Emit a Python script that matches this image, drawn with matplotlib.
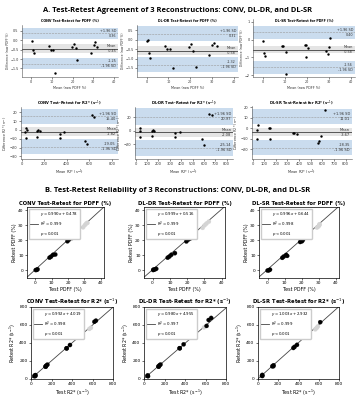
import numpy as np
import matplotlib.pyplot as plt

# ---- data ----
methods = ["CONV", "DL-DR", "DL-SR"]

# Bland-Altman PDFF: mean of test/retest (x) and difference (y)
conv_pdff_mean = [0.3, 0.6, 1.1, 8.6, 9.4, 10.6, 11.4, 19.5, 20.5, 21.7, 22.0, 28.9, 30.2, 31.1, 31.7]
conv_pdff_diff = [-0.05, -0.50, -0.70, -0.30, -0.52, -0.52, -1.72, -0.36, -0.20, -0.40, -1.03, -0.70, -0.27, -0.12, -0.36]
dldr_pdff_mean = [0.3, 0.6, 1.0, 1.6, 8.6, 9.5, 10.6, 12.2, 19.4, 20.5, 21.4, 22.7, 28.6, 30.0, 31.1, 32.5]
dldr_pdff_diff = [-0.05, 0.00, -0.70, -0.99, -0.31, -0.49, -0.49, -1.50, -0.38, -0.23, -0.58, -1.44, -0.83, -0.27, -0.18, -0.31]
dlsr_pdff_mean = [0.0, 0.5, 1.0, 8.5, 9.4, 10.6, 10.6, 19.0, 19.8, 20.6, 19.8, 28.7, 29.5, 30.3, 30.6]
dlsr_pdff_diff = [-0.09, -0.75, -0.93, -0.34, -0.34, -0.70, -1.92, -0.32, -0.28, -0.50, -0.97, -0.65, -0.80, -0.41, 0.06]

# Bland-Altman R2*
conv_r2_mean = [38, 44, 32, 38, 140, 149, 160, 140, 344, 344, 379, 563, 577, 627, 641]
conv_r2_diff = [2.2, 0.0, -2.6, -9.3, -1.5, 0.0, -0.7, -8.1, -4.4, -9.3, -2.6, -13.0, -15.5, 17.0, 14.8]
dldr_r2_mean = [38, 35, 35, 140, 152, 161, 140, 345, 345, 386, 579, 600, 643, 667]
dldr_r2_diff = [3.4, 0.0, -8.7, 0.0, 1.0, 0.0, -7.7, -3.9, -8.7, -1.4, -12.6, -20.8, 25.0, 22.7]
dlsr_r2_mean = [44, 38, 38, 141, 153, 147, 347, 359, 382, 559, 574, 588, 623]
dlsr_r2_diff = [2.7, -2.1, -9.8, 0.3, 0.0, -9.8, -4.3, -4.0, -5.8, -13.7, -11.9, -7.3, 16.8]

# bias and limits of agreement printed on the plots
pdff_bias = [-0.45, -0.58, -0.58]
pdff_upper = [0.36, 0.31, 0.40]
pdff_lower = [-1.25, -1.32, -1.56]
r2_bias = [-1.82, -2.08, -3.67]
r2_upper = [15.40, 20.97, 11.01]
r2_lower = [-19.05, -25.14, -18.35]

# half widths of the shaded confidence bands (bias, limits)
pdff_ci_bias = [0.22, 0.24, 0.20]
pdff_ci_loa = [0.30, 0.40, 0.35]
r2_ci_bias = [5.3, 6.5, 3.5]
r2_ci_loa = [8.5, 12.0, 7.0]

# regression fits printed in legends
pdff_slope = [0.990, 0.999, 0.996]
pdff_icpt = [0.478, 0.516, 0.644]
pdff_r2 = [0.999, 0.999, 0.998]
r2s_slope = [0.992, 0.980, 1.003]
r2s_icpt = [4.019, 4.955, 2.932]
r2s_r2 = [0.998, 0.997, 0.999]

W, H = 356, 400
fig = plt.figure(figsize=(3.56, 4.0), dpi=100)
fig.patch.set_facecolor("white")


def box(x0, y0, x1, y1):
    return [x0 / W, 1 - y1 / H, (x1 - x0) / W, (y1 - y0) / H]


def bland_altman(rect, title_y, xs, ys, bias, up, lo, ci_b, ci_l, xlim, ylim, yticks,
                 title, xlabel, ylabel, fs):
    ax = fig.add_axes(box(*rect))
    ax.set_xlim(xlim)
    ax.set_ylim(ylim)
    x0, x1 = xlim
    ax.fill_between([x0, x1], up - ci_l, up + ci_l, color="#cadcee", lw=0, zorder=0)
    ax.fill_between([x0, x1], lo - ci_l, lo + ci_l, color="#cadcee", lw=0, zorder=0)
    ax.fill_between([x0, x1], bias - ci_b, bias + ci_b, color="#e4e4e4", lw=0, zorder=0)
    ax.axhline(bias, color="#555555", lw=0.7, zorder=1)
    ax.axhline(up, color="#9a9a9a", lw=0.4, ls="--", zorder=1)
    ax.axhline(lo, color="#9a9a9a", lw=0.4, ls="--", zorder=1)
    ax.scatter(xs, ys, s=3, color="black", zorder=3, lw=0)
    off = (ylim[1] - ylim[0]) * 0.008
    tr = ax.get_yaxis_transform()
    kw = dict(ha="right", fontsize=fs, transform=tr, color="#333333")
    ax.text(0.98, up + off, "+1.96 SD", va="bottom", **kw)
    ax.text(0.98, up - off, f"{up:.2f}", va="top", **kw)
    ax.text(0.98, bias + off, "Mean", va="bottom", **kw)
    ax.text(0.98, bias - off, f"{bias:.2f}", va="top", **kw)
    ax.text(0.98, lo + off, f"{lo:.2f}", va="bottom", **kw)
    ax.text(0.98, lo - off, "-1.96 SD", va="top", **kw)
    ax.set_yticks(yticks)
    for s in ["top", "right"]:
        ax.spines[s].set_visible(False)
    for s in ["left", "bottom"]:
        ax.spines[s].set_linewidth(0.4)
        ax.spines[s].set_color("#555555")
    ax.tick_params(labelsize=fs, width=0.4, length=1.5, pad=1, colors="#333333")
    cx = (rect[0] + rect[2]) / 2
    fig.text(cx / W, 1 - title_y / H, title, ha="center", va="center",
             fontsize=fs, fontweight="bold")
    ax.set_xlabel(xlabel, fontsize=fs, labelpad=1, color="#333333")
    ax.set_ylabel(ylabel, fontsize=fs - 0.2, labelpad=0.5, color="#333333")
    return ax


def regression(rect, test, retest, grey, slope, icpt, r2, lim, ticks, title, xlabel, ylabel):
    ax = fig.add_axes(box(*rect))
    ax.set_xlim(lim)
    ax.set_ylim(lim)
    xx = np.array(lim)
    line, = ax.plot(xx, slope * xx + icpt, color="#444444", lw=0.6, zorder=1)
    cols = ["#d4d4d4" if g else "black" for g in grey]
    ax.scatter(test, retest, s=9, c=cols, zorder=2, lw=0.2, edgecolors=cols)
    lab = (f"$y = {slope:.3f}x + {icpt:.3f}$\n$R^2 = {r2:.3f}$\n$p < 0.001$")
    ax.legend([line], [lab], loc="upper left", fontsize=2.8, frameon=True,
              handlelength=2.0, borderpad=0.4, framealpha=1, edgecolor="#cccccc",
              borderaxespad=0.4, handletextpad=0.6)
    ax.set_xticks(ticks)
    ax.set_yticks(ticks)
    for s in ax.spines.values():
        s.set_linewidth(0.5)
    ax.tick_params(labelsize=3.2, width=0.4, length=1.5, pad=1)
    ax.set_title(title, fontsize=3.8, fontweight="bold", pad=1.5)
    ax.set_xlabel(xlabel, fontsize=3.4, labelpad=1)
    ax.set_ylabel(ylabel, fontsize=3.4, labelpad=1)
    return ax


# ---- section titles ----
fig.text(0.5, 1 - 10 / H, "A. Test-Retest Agreement of 3 Reconstructions: CONV, DL-DR, and DL-SR",
         ha="center", va="center", fontsize=5.4, fontweight="bold", family="Open Sans")
fig.text(0.5, 1 - 190 / H, "B. Test-Retest Reliability of 3 Reconstructions: CONV, DL-DR, and DL-SR",
         ha="center", va="center", fontsize=5.4, fontweight="bold", family="Open Sans")

# ---- A: Bland-Altman ----
pdff_xs = [conv_pdff_mean, dldr_pdff_mean, dlsr_pdff_mean]
pdff_ys = [conv_pdff_diff, dldr_pdff_diff, dlsr_pdff_diff]
pdff_rects = [(22, 25, 118, 77), (137, 25, 238, 77), (253, 19, 355, 77)]
pdff_ylims = [(-1.95, 0.8), (-1.98, 0.78), (-2.1, 1.15)]
pdff_yticks = [[-1.5, -1.0, -0.5, 0.0, 0.5], [-1.5, -1.0, -0.5, 0.0, 0.5], [-2, -1, 0, 1]]
for i in range(3):
    bland_altman(pdff_rects[i], 21, pdff_xs[i], pdff_ys[i], pdff_bias[i], pdff_upper[i],
                 pdff_lower[i], pdff_ci_bias[i], pdff_ci_loa[i], (-4.5, 42), pdff_ylims[i],
                 pdff_yticks[i], f"{methods[i]} Test-Retest for PDFF (%)",
                 "Mean (raw PDFF %)", "Difference (raw PDFF %)", 2.4)

r2_xs = [conv_r2_mean, dldr_r2_mean, dlsr_r2_mean]
r2_ys = [conv_r2_diff, dldr_r2_diff, dlsr_r2_diff]
r2_rects = [(21, 107, 118, 159), (135, 107, 233, 159), (252, 106, 352, 159)]
r2_ylims = [(-33, 26), (-41.5, 35), (-29, 21)]
r2_yticks = [[-30, -20, -10, 0, 10, 20], [-20, 0, 20], [-20, -10, 0, 10, 20]]
for i in range(3):
    bland_altman(r2_rects[i], 103, r2_xs[i], r2_ys[i], r2_bias[i], r2_upper[i],
                 r2_lower[i], r2_ci_bias[i], r2_ci_loa[i], (-5, 855), r2_ylims[i],
                 r2_yticks[i], f"{methods[i]} Test-Retest for R2* (s$^{{-1}}$)",
                 "Mean R2* (s$^{-1}$)", "Difference R2* (s$^{-1}$)", 2.6)

# ---- B: regression ----
for i in range(3):
    m = np.array(pdff_xs[i])
    d = np.array(pdff_ys[i])
    grey = m > 27
    rect = [(27, 207, 104, 278), (144, 207, 225, 278), (259, 207, 339, 278)][i]
    regression(rect, m - d / 2, m + d / 2, grey, pdff_slope[i], pdff_icpt[i], pdff_r2[i],
               (-5, 42), [0, 10, 20, 30, 40], f"{methods[i]} Test-Retest for PDFF (%)",
               "Test PDFF (%)", "Retest PDFF (%)")

for i in range(3):
    m = np.array(r2_xs[i])
    d = np.array(r2_ys[i])
    grey = (m > 540) & (m < 600)
    rect = [(31, 307, 113, 379), (144, 307, 226, 379), (258, 307, 339, 379)][i]
    regression(rect, m - d / 2, m + d / 2, grey, r2s_slope[i], r2s_icpt[i], r2s_r2[i],
               (0, 800), [0, 200, 400, 600, 800], f"{methods[i]} Test-Retest for R2* (s$^{{-1}}$)",
               "Test R2* (s$^{-1}$)", "Retest R2* (s$^{-1}$)")

fig.savefig("out.png", dpi=100)
